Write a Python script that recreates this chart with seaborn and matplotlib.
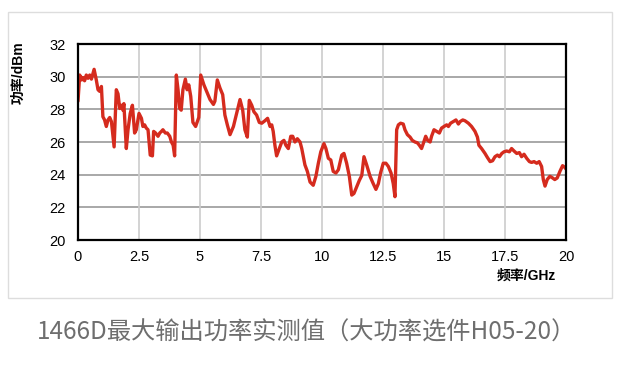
import seaborn as sns
import pandas as pd
import matplotlib.pyplot as plt
from matplotlib.patches import Rectangle
from matplotlib.ticker import FormatStrFormatter, MultipleLocator

sns.set_theme(style="white")
plt.rcParams['font.family'] = ['Liberation Sans', 'Noto Sans CJK SC', 'DejaVu Sans']

freq = [0, 0.07, 0.15, 0.2, 0.27, 0.34, 0.41, 0.48, 0.55, 0.66, 0.75, 0.82, 0.89, 0.96,
        1.02, 1.09, 1.16, 1.23, 1.3, 1.37, 1.48, 1.57, 1.64, 1.71, 1.78, 1.84, 1.88, 1.98,
        2.05, 2.14, 2.23, 2.32, 2.39, 2.5, 2.6, 2.66, 2.73, 2.8, 2.87, 2.96, 3.05, 3.1,
        3.18, 3.28, 3.35, 3.42, 3.48, 3.58, 3.66, 3.76, 3.83, 3.9, 3.96, 4.03, 4.1, 4.17,
        4.23, 4.3, 4.4, 4.47, 4.54, 4.62, 4.71, 4.82, 4.95, 5.03, 5.16, 5.27, 5.41, 5.55,
        5.61, 5.71, 5.82, 5.93, 6.02, 6.12, 6.23, 6.37, 6.5, 6.64, 6.75, 6.84, 6.94, 7.02,
        7.12, 7.21, 7.32, 7.43, 7.53, 7.66, 7.77, 7.87, 7.94, 8.0, 8.07, 8.14, 8.25, 8.35,
        8.44, 8.52, 8.62, 8.72, 8.8, 8.89, 8.99, 9.1, 9.17, 9.3, 9.4, 9.51, 9.64, 9.75,
        9.85, 9.95, 10.08, 10.16, 10.26, 10.36, 10.46, 10.57, 10.67, 10.81, 10.9, 11.01,
        11.12, 11.22, 11.31, 11.42, 11.53, 11.63, 11.72, 11.83, 11.97, 12.1, 12.21, 12.31,
        12.4, 12.51, 12.62, 12.72, 12.83, 12.92, 12.99, 13.06, 13.13, 13.22, 13.33, 13.4,
        13.5, 13.61, 13.7, 13.81, 13.91, 13.99, 14.08, 14.15, 14.25, 14.33, 14.43, 14.49,
        14.59, 14.7, 14.81, 14.9, 15.0, 15.11, 15.18, 15.27, 15.38, 15.49, 15.59, 15.66,
        15.77, 15.86, 16.0, 16.13, 16.27, 16.37, 16.43, 16.54, 16.68, 16.78, 16.89, 16.99,
        17.09, 17.19, 17.27, 17.37, 17.46, 17.57, 17.68, 17.77, 17.87, 17.98, 18.09, 18.18,
        18.28, 18.39, 18.5, 18.59, 18.69, 18.8, 18.9, 19.0, 19.07, 19.14, 19.23, 19.34,
        19.45, 19.54, 19.64, 19.75, 19.86, 19.95, 20.0]
power = [28.5, 30.1, 29.8, 29.95, 29.75, 30.1, 29.9, 30.1, 29.85, 30.45, 29.8, 29.2, 29.1, 29.4,
         27.55, 27.35, 26.95, 27.35, 27.5, 27.25, 25.7, 29.2, 28.95, 28.05, 28.25, 27.95, 28.35, 25.6,
         26.75, 27.75, 28.25, 26.55, 26.75, 27.75, 27.45, 26.95, 27.05, 26.85, 26.75, 25.2, 25.15, 26.65,
         26.55, 26.35, 26.55, 26.65, 26.75, 26.55, 26.55, 26.35, 26.0, 25.8, 25.15, 30.1, 29.2, 28.05,
         27.95, 29.2, 29.85, 29.2, 29.5, 28.8, 27.2, 26.95, 27.5, 30.1, 29.5, 29.1, 28.6, 28.3,
         28.5, 29.8, 29.3, 28.9, 27.65, 27.05, 26.45, 26.95, 27.75, 28.6, 27.95, 26.75, 26.3, 28.55,
         28.25, 27.85, 27.65, 27.2, 27.15, 27.3, 27.45, 26.95, 27.05, 26.65, 25.8, 25.15, 25.6, 26.0,
         26.1, 25.8, 25.6, 26.35, 26.35, 26.0, 26.2, 26.0, 25.6, 24.6, 24.2, 23.55, 23.35, 23.9,
         24.7, 25.4, 25.9, 25.6, 25.0, 24.9, 24.2, 24.1, 24.3, 25.2, 25.3, 24.7,
         23.9, 22.75, 22.85, 23.25, 23.65, 23.95, 25.1, 24.6, 23.9, 23.45, 23.1, 23.45,
         24.1, 24.7, 24.7, 24.5, 24.1, 23.45, 22.65, 26.75, 27.05, 27.15, 27.1, 26.75,
         26.45, 26.3, 26.1, 26.0, 25.95, 25.8, 25.6, 25.9, 26.35, 26.1, 26.0, 26.35,
         26.75, 26.65, 26.55, 26.85, 26.95, 27.05, 26.95, 27.15, 27.25, 27.35, 27.1, 27.25,
         27.35, 27.3, 27.15, 26.95, 26.65, 26.3, 25.8, 25.6, 25.3, 25.05, 24.8, 24.85,
         25.1, 25.2, 25.1, 25.3, 25.4, 25.45, 25.4, 25.6, 25.45, 25.3, 25.35, 25.1,
         25.25, 25.0, 24.8, 24.75, 24.8, 24.7, 24.8, 24.5, 23.7, 23.3, 23.7, 23.9,
         23.8, 23.7, 23.8, 24.2, 24.55, 24.45, 24.35]

df = pd.DataFrame({"freq": freq, "power": power})

fig = plt.figure(figsize=(6.33, 3.68), dpi=100)
ax = fig.add_axes([78/633, 1-240/368, (566-78)/633, (240-44)/368])

# light frame around the chart area
fig.patches.append(Rectangle((8/633, 1-298/368), 604/633, 286/368, transform=fig.transFigure,
                             facecolor="none", edgecolor="#dddddd", linewidth=1))

sns.lineplot(data=df, x="freq", y="power", ax=ax, color="#d52b1e", linewidth=2.4)

ax.set_xlim(0, 20)
ax.set_ylim(20, 32)
ax.xaxis.set_major_locator(MultipleLocator(2.5))
ax.yaxis.set_major_locator(MultipleLocator(2))
ax.xaxis.set_major_formatter(FormatStrFormatter('%g'))
ax.set_xlabel("")
ax.set_ylabel("")

ax.grid(False)
for v in range(22, 32, 2):
    ax.axhline(v, color="#9a9a9a", linewidth=1.2, zorder=0)
for v in [2.5, 5, 7.5, 10, 12.5, 15, 17.5]:
    ax.axvline(v, color="#cccccc", linewidth=1.2, zorder=0)

for s in ax.spines.values():
    s.set_color("black")
    s.set_linewidth(1.6)

ax.tick_params(axis="y", direction="out", length=3, width=1, color="black",
               labelsize=10.5, labelcolor="black", pad=6)
ax.tick_params(axis="x", direction="in", length=4, width=1, color="#555555",
               labelsize=10.5, labelcolor="black", pad=7)

fig.text(18/633, 1-73/368, "功率/dBm", rotation=90, ha="center", va="center",
         fontsize=10, fontweight="bold", color="black")
fig.text(526/633, 1-276/368, "频率/GHz", ha="center", va="center",
         fontsize=10, fontweight="bold", color="black")

fig.text(307/633, 1-333/368, "1466D最大输出功率实测值（大功率选件H05-20）", ha="center", va="center",
         fontsize=17.5, fontweight="light", color="#6e6e6e",
         family=['Noto Sans CJK SC', 'DejaVu Sans'])

fig.savefig("out.png", dpi=100)
